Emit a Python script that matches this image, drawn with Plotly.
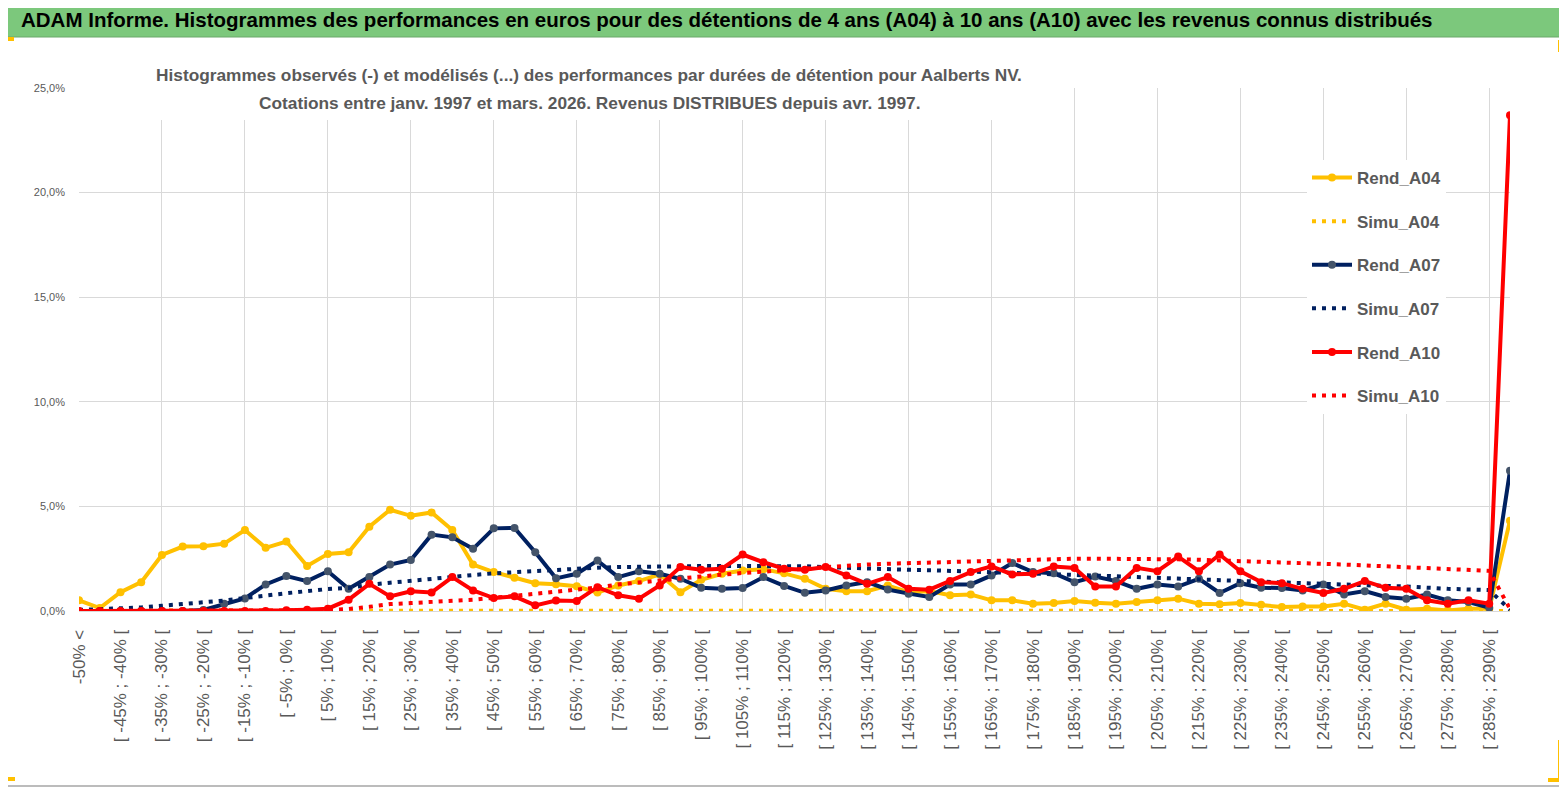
import plotly.graph_objects as go

# categories : classes de performance (une etiquette sur deux affichee)
categories = ["-50% <"] + ["[ %d%% ; %d%% [" % (-50 + 5 * k, -45 + 5 * k) for k in range(68)] + ["290% <="]
idx = list(range(len(categories)))

# observed histograms (%)
rend_a04 = [0.51, 0.14, 0.90, 1.38, 2.68, 3.08, 3.10, 3.22, 3.87, 3.02,
            3.32, 2.15, 2.73, 2.81, 4.03, 4.84, 4.55, 4.71, 3.87, 2.22,
            1.86, 1.59, 1.33, 1.28, 1.18, 0.88, 1.22, 1.43, 1.75, 0.90,
            1.49, 1.78, 1.94, 2.00, 1.80, 1.54, 1.06, 0.95, 0.95, 1.22,
            0.90, 0.95, 0.75, 0.79, 0.51, 0.51, 0.35, 0.38, 0.48, 0.40,
            0.35, 0.43, 0.51, 0.59, 0.35, 0.32, 0.38, 0.30, 0.19, 0.22,
            0.22, 0.35, 0.06, 0.35, 0.06, 0.11, 0.03, 0.11, 0.11, 4.32]
rend_a07 = [0.00, 0.00, 0.00, 0.00, 0.00, 0.00, 0.05, 0.35, 0.60, 1.27,
            1.67, 1.43, 1.90, 1.06, 1.62, 2.22, 2.44, 3.65, 3.52, 2.97,
            3.95, 3.97, 2.81, 1.56, 1.78, 2.41, 1.62, 1.90, 1.78, 1.54,
            1.11, 1.06, 1.10, 1.62, 1.20, 0.87, 0.98, 1.22, 1.38, 1.03,
            0.83, 0.67, 1.27, 1.27, 1.70, 2.29, 1.86, 1.81, 1.38, 1.65,
            1.43, 1.06, 1.27, 1.17, 1.54, 0.86, 1.33, 1.11, 1.10, 0.98,
            1.27, 0.79, 0.95, 0.67, 0.59, 0.79, 0.51, 0.43, 0.16, 6.70]
rend_a10 = [0.00, 0.00, 0.00, 0.00, 0.00, 0.00, 0.00, 0.00, 0.00, 0.00,
            0.03, 0.06, 0.11, 0.54, 1.30, 0.70, 0.94, 0.89, 1.62, 0.98,
            0.62, 0.70, 0.27, 0.50, 0.48, 1.14, 0.75, 0.59, 1.22, 2.10,
            1.97, 2.02, 2.70, 2.33, 2.02, 1.97, 2.10, 1.70, 1.30, 1.62,
            1.06, 1.02, 1.43, 1.86, 2.13, 1.75, 1.78, 2.13, 2.06, 1.17,
            1.17, 2.06, 1.90, 2.60, 1.90, 2.70, 1.90, 1.38, 1.33, 1.06,
            0.86, 1.06, 1.43, 1.11, 1.06, 0.51, 0.35, 0.51, 0.35, 23.70]

# modelled histograms (%)
simu_a04 = [0.02] * 69 + [0.00]
simu_a07 = [0.05, 0.08, 0.12, 0.17, 0.25, 0.32, 0.40, 0.50, 0.62, 0.75,
            0.85, 0.95, 1.05, 1.10, 1.25, 1.35, 1.45, 1.55, 1.65, 1.72,
            1.80, 1.86, 1.92, 1.97, 2.02, 2.07, 2.10, 2.12, 2.13, 2.14,
            2.15, 2.15, 2.15, 2.15, 2.15, 2.14, 2.10, 2.06, 2.02, 1.99,
            1.97, 1.95, 1.92, 1.90, 1.88, 1.85, 1.82, 1.78, 1.74, 1.70,
            1.66, 1.62, 1.58, 1.53, 1.50, 1.45, 1.42, 1.38, 1.35, 1.33,
            1.30, 1.28, 1.25, 1.20, 1.17, 1.10, 1.06, 1.03, 1.00, 0.06]
simu_a10 = [0.00, 0.00, 0.00, 0.00, 0.00, 0.00, 0.00, 0.00, 0.00, 0.01,
            0.02, 0.03, 0.05, 0.10, 0.20, 0.33, 0.38, 0.42, 0.47, 0.54,
            0.63, 0.72, 0.84, 0.90, 1.02, 1.12, 1.27, 1.35, 1.46, 1.55,
            1.65, 1.75, 1.82, 1.88, 1.93, 2.02, 2.10, 2.17, 2.22, 2.26,
            2.29, 2.33, 2.36, 2.39, 2.42, 2.45, 2.48, 2.49, 2.50, 2.50,
            2.50, 2.49, 2.48, 2.47, 2.45, 2.42, 2.40, 2.38, 2.35, 2.30,
            2.26, 2.22, 2.18, 2.14, 2.10, 2.05, 2.00, 1.96, 1.92, 0.10]

yellow = '#ffc000'
navy = '#002060'
red = '#ff0000'
grey_txt = '#595959'
grid = '#d9d9d9'
font_main = 'Liberation Sans, Arial, sans-serif'

# the page body has an 8px margin: the figure is drawn 8px smaller
OFF = 8
W, H = 1567 - OFF, 789 - OFF
L, R, T, B = 79 - OFF, 57, 88 - OFF, 178


def px(x):
    # window pixel -> paper
    return (x - OFF - L) / (W - L - R)


def py(y):
    return (H - B - (y - OFF)) / (H - T - B)


fig = go.Figure()


def rend(name, vals, col, mcol):
    fig.add_trace(go.Scatter(x=idx, y=vals, name=name, legendgroup=name, mode='lines+markers',
                             line=dict(color=col, width=4), marker=dict(color=mcol, size=8)))


def simu(name, vals, col):
    fig.add_trace(go.Scatter(x=idx, y=vals, name=name, legendgroup=name, mode='lines',
                             line=dict(color=col, width=4, dash='4px,6px')))


rend('Rend_A04', rend_a04, yellow, yellow)
simu('Simu_A04', simu_a04, yellow)
rend('Rend_A07', rend_a07, navy, '#44546a')
simu('Simu_A07', simu_a07, navy)
rend('Rend_A10', rend_a10, red, red)
simu('Simu_A10', simu_a10, red)
# invisible trace holding the grid axis
fig.add_trace(go.Scatter(x=[0, 69], y=[None, None], xaxis='x2', showlegend=False, hoverinfo='skip'))

fig.update_layout(
    width=W, height=H,
    margin=dict(l=L, r=R, t=T, b=B),
    paper_bgcolor='white', plot_bgcolor='white',
    separators=', ',
    font=dict(family=font_main, color=grey_txt),
    xaxis=dict(range=[0, 69], tickmode='array', tickvals=idx[::2], ticktext=categories[::2],
               tickangle=-90, tickfont=dict(size=17, color=grey_txt), showgrid=False,
               showline=True, linecolor=grid, zeroline=False, ticks='', ticklabelstandoff=11),
    xaxis2=dict(range=[0, 69], overlaying='x', tickmode='array', tickvals=idx[::4],
                showticklabels=False, showgrid=True, gridcolor=grid, zeroline=False),
    yaxis=dict(range=[0, 25], dtick=5, tickformat='.1f', ticksuffix='%', showgrid=True,
               gridcolor=grid, zeroline=False, tickfont=dict(size=11, color=grey_txt),
               ticklabelstandoff=13),
    legend=dict(x=px(1307), y=py(160), xanchor='left', yanchor='top', bgcolor='white',
                font=dict(size=17, color=grey_txt, family=font_main, weight='bold'),
                tracegroupgap=18.5, itemwidth=40),
    showlegend=True,
)

# green banner with the main title
fig.add_shape(type='rect', xref='paper', yref='paper', x0=px(0), x1=px(1567), y0=py(37), y1=py(0),
              fillcolor='#7cc87c', line=dict(color='#6aa86a', width=1), layer='above')
fig.add_annotation(xref='paper', yref='paper', x=px(19), y=py(19), xanchor='left', yanchor='middle',
                   showarrow=False,
                   text='<b>ADAM Informe. Histogrammes des performances en euros pour des détentions de 4 ans (A04) '
                        'à 10 ans (A10) avec les revenus connus distribués</b>',
                   font=dict(size=20.5, color='black', family=font_main))

# chart subtitle on a white box
fig.add_shape(type='rect', xref='paper', yref='paper', x0=px(150), x1=px(1030), y0=py(120), y1=py(56),
              fillcolor='white', line=dict(width=0), layer='above')
subtitle = ['Histogrammes observés (-) et modélisés (...) des performances par durées de détention pour Aalberts NV.',
            'Cotations entre janv. 1997 et mars. 2026. Revenus DISTRIBUES depuis avr. 1997.']
for line, yy in zip(subtitle, [75, 103]):
    fig.add_annotation(xref='paper', yref='paper', x=px(589), y=py(yy), xanchor='center', yanchor='middle',
                       showarrow=False, text='<b>' + line + '</b>',
                       font=dict(size=17.3, color=grey_txt, family=font_main))

# chart frame and corner marks
fig.add_shape(type='line', xref='paper', yref='paper', x0=px(1561), x1=px(1561), y0=py(786), y1=py(40),
              line=dict(color='#a6a6a6', width=1.5))
fig.add_shape(type='line', xref='paper', yref='paper', x0=px(8), x1=px(1561), y0=py(786), y1=py(786),
              line=dict(color='#a6a6a6', width=1.5))
for x0, x1, y0, y1 in [(8, 14, 37, 41), (8, 15, 777, 781), (1558, 1562, 40, 52), (1558, 1562, 740, 782),
                       (1548, 1562, 778, 782)]:
    fig.add_shape(type='rect', xref='paper', yref='paper', x0=px(x0), x1=px(x1), y0=py(y1), y1=py(y0),
                  fillcolor=yellow, line=dict(width=0))

fig.write_html("out.html")
